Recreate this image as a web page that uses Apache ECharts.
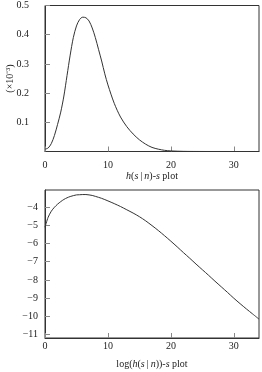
<!DOCTYPE html>
<html>
<head>
<meta charset="utf-8">
<script src="https://cdn.jsdelivr.net/npm/echarts@6/dist/echarts.min.js"></script>
<style>
html,body{margin:0;padding:0;background:#fff;}
#c{width:262px;height:372px;}
</style>
</head>
<body>
<div id="c"></div>
<script>
// Top panel: h(s|n) (x10^-3) versus s
const sTop = [0, 0.5, 1, 1.5, 2, 2.5, 3, 3.5, 4, 4.5, 5, 5.5, 6, 6.5, 7, 7.5, 8, 8.5, 9, 9.5, 10, 11, 12, 13, 14, 15, 16, 17, 18, 19, 20, 22, 25, 30, 34];
const hTop = [0.008, 0.012, 0.027, 0.055, 0.093, 0.135, 0.19, 0.26, 0.33, 0.39, 0.43, 0.452, 0.46, 0.458, 0.447, 0.423, 0.39, 0.35, 0.31, 0.266, 0.228, 0.165, 0.118, 0.085, 0.06, 0.04, 0.025, 0.014, 0.008, 0.004, 0.002, 0.0005, 0.0001, 0, 0];
// Bottom panel: log(h(s|n)) versus s
const sBot = [0, 0.5, 1, 1.5, 2, 2.5, 3, 3.5, 4, 4.5, 5, 5.5, 6, 6.5, 7, 7.5, 8, 9, 10, 11, 12, 13, 14, 15, 16, 17, 18, 19, 20, 21, 22, 23, 24, 25, 26, 27, 28, 29, 30, 31, 32, 33, 34];
const logBot = [-5.1, -4.55, -4.22, -4.0, -3.83, -3.69, -3.57, -3.48, -3.41, -3.36, -3.32, -3.31, -3.30, -3.30, -3.32, -3.35, -3.40, -3.51, -3.65, -3.80, -3.96, -4.14, -4.32, -4.52, -4.75, -5.01, -5.28, -5.57, -5.87, -6.18, -6.50, -6.81, -7.13, -7.44, -7.75, -8.07, -8.38, -8.69, -9.01, -9.31, -9.60, -9.88, -10.16];
// Tick values
const xTicksMax = 34;
const topYMax = 0.5;
const botYMin = -11.2, botYMax = -3.05;

const FONT = 'Liberation Serif';
const txt = {fontFamily: FONT, fontSize: 10, color: '#222'};
const rich = {i: {fontFamily: FONT, fontSize: 10, fontStyle: 'italic', color: '#222'}};
const lineC = '#333';
const tickC = '#888';

const chart = echarts.init(document.getElementById('c'), null, {renderer: 'canvas'});
chart.setOption({
  animation: false,
  backgroundColor: '#fff',
  grid: [
    {left: 45, top: 5.5, width: 214, height: 146, show: true, borderColor: lineC, borderWidth: 1,
     containLabel: false, outerBoundsMode: 'none'},
    {left: 45, top: 190, width: 214, height: 148, show: true, borderColor: lineC, borderWidth: 1,
     containLabel: false, outerBoundsMode: 'none'}
  ],
  xAxis: [
    {gridIndex: 0, type: 'value', min: 0, max: xTicksMax, interval: 10,
     axisLine: {lineStyle: {color: lineC}}, axisTick: {inside: true, length: 5, lineStyle: {color: tickC}},
     splitLine: {show: false},
     axisLabel: Object.assign({margin: 9, showMaxLabel: false}, txt),
     name: '{i|h}({i|s}\u2009|\u2009{i|n})-{i|s} plot', nameLocation: 'middle', nameGap: 20,
     nameMoveOverlap: false,
     nameTextStyle: Object.assign({rich: rich}, txt)},
    {gridIndex: 1, type: 'value', min: 0, max: xTicksMax, interval: 10,
     axisLine: {lineStyle: {color: lineC}}, axisTick: {inside: true, length: 5, lineStyle: {color: tickC}},
     splitLine: {show: false},
     axisLabel: Object.assign({margin: 3, showMaxLabel: false}, txt),
     name: 'log({i|h}({i|s}\u2009|\u2009{i|n}))-{i|s} plot', nameLocation: 'middle', nameGap: 21,
     nameMoveOverlap: false,
     nameTextStyle: Object.assign({rich: rich}, txt)}
  ],
  yAxis: [
    {gridIndex: 0, type: 'value', min: 0, max: topYMax, interval: 0.1,
     axisLine: {lineStyle: {color: lineC}}, axisTick: {inside: true, length: 5, lineStyle: {color: tickC}},
     splitLine: {show: false},
     axisLabel: Object.assign({margin: 16, showMinLabel: false}, txt),
     name: '(\u00d710\u207b\u00b3)', nameLocation: 'middle', nameRotate: 90, nameGap: 30,
     nameMoveOverlap: false,
     nameTextStyle: txt},
    {gridIndex: 1, type: 'value', min: botYMin, max: botYMax, splitNumber: 8,
     axisLine: {lineStyle: {color: lineC}}, axisTick: {inside: true, length: 5, lineStyle: {color: tickC}},
     splitLine: {show: false},
     axisLabel: Object.assign({margin: 7, showMinLabel: false, showMaxLabel: false,
       formatter: v => String(v).replace('-', '\u2212')}, txt)}
  ],
  series: [
    {type: 'line', xAxisIndex: 0, yAxisIndex: 0, data: sTop.map((s, i) => [s, hTop[i]]),
     smooth: 0.3, showSymbol: false, lineStyle: {color: lineC, width: 1}, clip: true},
    {type: 'line', xAxisIndex: 1, yAxisIndex: 1, data: sBot.map((s, i) => [s, logBot[i]]),
     smooth: 0.3, showSymbol: false, lineStyle: {color: lineC, width: 1}, clip: true}
  ]
});
</script>
</body>
</html>
